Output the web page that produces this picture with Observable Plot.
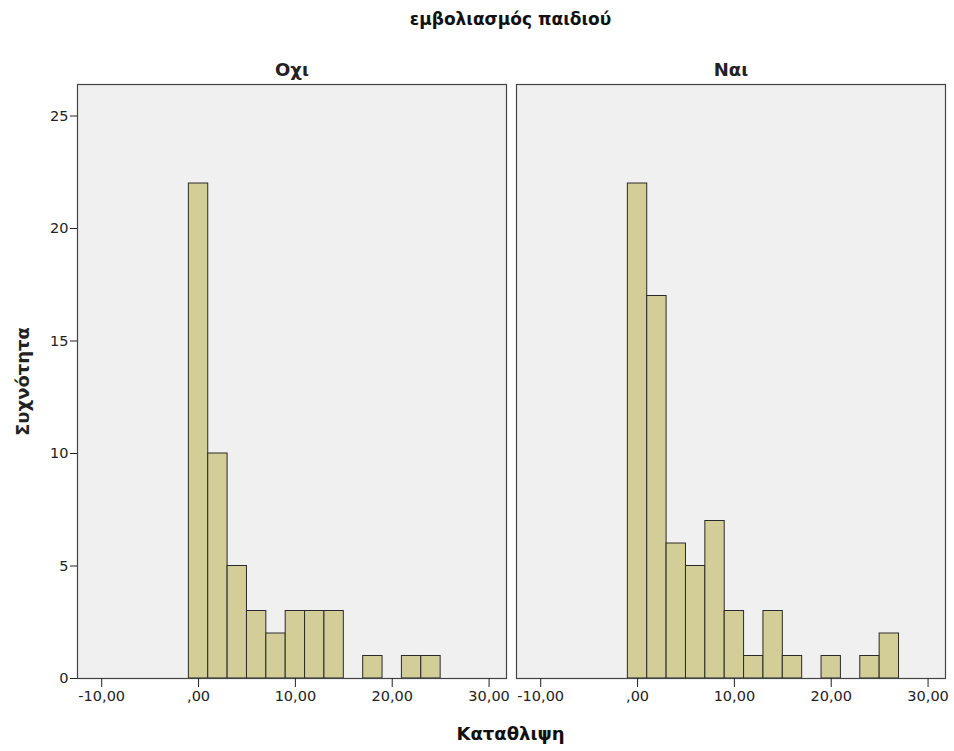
<!DOCTYPE html>
<html>
<head>
<meta charset="utf-8">
<script src="https://cdn.jsdelivr.net/npm/d3@7"></script>
<script src="https://cdn.jsdelivr.net/npm/@observablehq/plot@0.6"></script>
<style>
  body { margin: 0; background: #ffffff; font-family: "DejaVu Sans", sans-serif; }
  #wrap { width: 954px; }
  .htext { box-sizing: border-box; width: 954px; padding-left: 76px; padding-right: 9px; text-align: center; font-weight: bold; color: #111; }
  #title { height: 36px; line-height: 38px; font-size: 17px; }
  #xlabel { height: 39px; line-height: 44px; font-size: 18px; }
</style>
</head>
<body>
<div id="wrap">
  <div id="title" class="htext">εμβολιασμός παιδιού</div>
  <div id="chart"></div>
  <div id="xlabel" class="htext">Καταθλιψη</div>
</div>
<script>
// Histogram bins (width 2) of "Καταθλιψη", by facet "εμβολιασμός παιδιού"
const groups = ["Οχι", "Ναι"];
const binStart = [-1, 1, 3, 5, 7, 9, 11, 13, 15, 17, 19, 21, 23, 25];
const binWidth = 2;
const countOxi = [22, 10, 5, 3, 2, 3, 3, 3, 0, 1, 0, 1, 1, 0];
const countNai = [22, 17, 6, 5, 7, 3, 1, 3, 1, 0, 1, 0, 1, 2];
const xTickValues = [-10, 0, 10, 20, 30];
const xTickLabels = ["-10,00", ",00", "10,00", "20,00", "30,00"];
const yTickValues = [0, 5, 10, 15, 20, 25];

const rows = [];
[countOxi, countNai].forEach((counts, gi) => {
  binStart.forEach((s, i) => {
    if (counts[i] > 0) rows.push({group: groups[gi], x1: s, x2: s + binWidth, count: counts[i]});
  });
});

const chart = Plot.plot({
  width: 954,
  height: 676,
  marginTop: 48,
  marginBottom: 34,
  marginLeft: 76,
  marginRight: 9,
  style: {fontFamily: "DejaVu Sans, sans-serif", fontSize: "14px", color: "#222", background: "#ffffff"},
  fx: {domain: groups, padding: 0.023},
  x: {domain: [-12.5, 31.8]},
  y: {domain: [0, 26.4]},
  marks: [
    Plot.frame({fill: "#f0f0f0"}),
    Plot.rectY(rows, {fx: "group", x1: "x1", x2: "x2", y: "count", inset: 0, fill: "#d3ce97", stroke: "#2a2a2a", strokeWidth: 1}),
    Plot.frame({stroke: "#444", strokeWidth: 1.2}),
    Plot.axisFx({anchor: "top", tickSize: 0, tickPadding: 9, label: null, fontSize: 18, fontWeight: "bold"}),
    Plot.axisX({ticks: xTickValues, tickFormat: (d) => xTickLabels[xTickValues.indexOf(d)], tickSize: 9, tickPadding: 3, fontSize: 14.5, label: null}),
    Plot.axisY({ticks: yTickValues, tickSize: 7, tickPadding: 2, fontSize: 14.5, label: "Συχνότητα", labelAnchor: "center", labelArrow: "none", labelOffset: 61})
  ]
});
document.getElementById("chart").appendChild(chart);
chart.querySelectorAll("text").forEach(t => {
  if (t.textContent === "Συχνότητα") { t.setAttribute("font-weight", "bold"); t.setAttribute("font-size", "18"); }
});
</script>
</body>
</html>
